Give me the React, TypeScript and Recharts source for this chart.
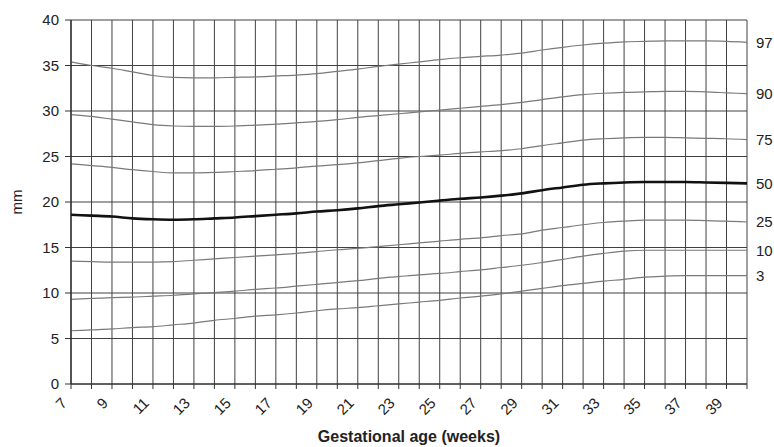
import React from 'react';
import { LineChart, Line, XAxis, YAxis, CartesianGrid } from 'recharts';

const weeks = [7, 8, 9, 10, 11, 12, 13, 14, 15, 16, 17, 18, 19, 20, 21, 22, 23, 24, 25, 26, 27, 28, 29, 30, 31, 32, 33, 34, 35, 36, 37, 38, 39, 40];
const labeledWeeks = [7, 9, 11, 13, 15, 17, 19, 21, 23, 25, 27, 29, 31, 33, 35, 37, 39];
const yTicks = [0, 5, 10, 15, 20, 25, 30, 35, 40];

const p97 = [35.4, 35.0, 34.7, 34.3, 33.9, 33.7, 33.65, 33.65, 33.7, 33.75, 33.85, 33.95, 34.1, 34.35, 34.6, 34.9, 35.15, 35.4, 35.65, 35.85, 36.0, 36.15, 36.35, 36.7, 37.0, 37.25, 37.45, 37.6, 37.65, 37.7, 37.7, 37.7, 37.65, 37.55];
const p90 = [29.6, 29.4, 29.1, 28.8, 28.5, 28.35, 28.3, 28.3, 28.35, 28.45, 28.55, 28.7, 28.85, 29.05, 29.3, 29.5, 29.7, 29.9, 30.1, 30.3, 30.5, 30.7, 30.95, 31.25, 31.55, 31.8, 31.95, 32.05, 32.1, 32.15, 32.15, 32.1, 32.0, 31.9];
const p75 = [24.2, 24.0, 23.8, 23.55, 23.35, 23.2, 23.2, 23.25, 23.35, 23.45, 23.6, 23.75, 23.95, 24.1, 24.3, 24.55, 24.8, 25.0, 25.15, 25.35, 25.5, 25.65, 25.85, 26.2, 26.5, 26.8, 26.95, 27.05, 27.1, 27.1, 27.05, 27.0, 26.95, 26.85];
const p50 = [18.6, 18.5, 18.4, 18.2, 18.1, 18.05, 18.1, 18.2, 18.3, 18.45, 18.6, 18.75, 18.95, 19.1, 19.3, 19.55, 19.75, 19.95, 20.15, 20.35, 20.5, 20.7, 20.95, 21.3, 21.6, 21.9, 22.05, 22.15, 22.2, 22.2, 22.2, 22.15, 22.1, 22.05];
const p25 = [13.5, 13.45, 13.4, 13.4, 13.4, 13.45, 13.6, 13.75, 13.9, 14.05, 14.2, 14.35, 14.55, 14.75, 14.9, 15.1, 15.3, 15.5, 15.7, 15.9, 16.05, 16.3, 16.5, 16.9, 17.2, 17.5, 17.75, 17.9, 18.0, 18.0, 18.0, 17.95, 17.9, 17.8];
const p10 = [9.3, 9.4, 9.5, 9.55, 9.65, 9.75, 9.9, 10.05, 10.2, 10.4, 10.55, 10.75, 10.95, 11.15, 11.35, 11.6, 11.8, 12.0, 12.15, 12.35, 12.55, 12.8, 13.05, 13.35, 13.7, 14.05, 14.35, 14.6, 14.7, 14.7, 14.7, 14.7, 14.7, 14.7];
const p3 = [5.85, 5.95, 6.05, 6.2, 6.3, 6.5, 6.7, 7.0, 7.2, 7.45, 7.6, 7.8, 8.05, 8.25, 8.4, 8.6, 8.8, 9.0, 9.2, 9.45, 9.65, 9.9, 10.2, 10.5, 10.8, 11.05, 11.3, 11.5, 11.75, 11.85, 11.9, 11.9, 11.9, 11.9];

const seriesKeys = ['p97', 'p90', 'p75', 'p50', 'p25', 'p10', 'p3'];
const seriesNames = ['97', '90', '75', '50', '25', '10', '3'];
const seriesValues = [p97, p90, p75, p50, p25, p10, p3];

const data = weeks.map((w, i) => {
  const row: any = { week: w };
  seriesKeys.forEach((k, j) => {
    row[k] = seriesValues[j][i];
  });
  return row;
});

const FONT = '"Liberation Sans", Arial, Helvetica, sans-serif';
const TEXT = '#222';
const GRID = '#404040';

const XTick = (props: any) => {
  const { x, y, payload } = props;
  if (!labeledWeeks.includes(payload.value)) return null;
  const tx = x - 3;
  const ty = y + 13;
  return (
    <text
      x={tx}
      y={ty}
      transform={`rotate(-45 ${tx} ${ty})`}
      textAnchor="end"
      fontFamily={FONT}
      fontSize={15}
      fill={TEXT}
    >
      {payload.value}
    </text>
  );
};

const makeEndLabel = (name: string) => (props: any) => {
  const { x, y, index } = props;
  if (index !== weeks.length - 1) return null;
  return (
    <text x={x + 9} y={y} dy="0.36em" textAnchor="start" fontFamily={FONT} fontSize={15} fill={TEXT}>
      {name}
    </text>
  );
};

export default function App() {
  return (
    <div style={{ position: 'absolute', left: 0, top: 0, width: 774, height: 447 }}>
      <LineChart width={774} height={447} data={data} margin={{ top: 20, right: 27, left: 0, bottom: 0 }}>
        <CartesianGrid stroke={GRID} strokeWidth={1} />
        <XAxis
          dataKey="week"
          type="number"
          domain={[7, 40]}
          ticks={weeks}
          interval={0}
          height={63}
          tickSize={5}
          tick={<XTick />}
          axisLine={{ stroke: '#222', strokeWidth: 1.2 }}
          tickLine={{ stroke: '#333' }}
          label={{
            content: (p: any) => {
              const vb = p.viewBox;
              return (
                <text
                  x={vb.x + vb.width / 2}
                  y={vb.y + 58}
                  textAnchor="middle"
                  fontFamily={FONT}
                  fontSize={16}
                  fontWeight="bold"
                  fill={TEXT}
                >
                  Gestational age (weeks)
                </text>
              );
            },
          }}
        />
        <YAxis
          type="number"
          domain={[0, 40]}
          ticks={yTicks}
          interval={0}
          width={71}
          tickSize={6}
          tickMargin={6}
          tick={{ fontFamily: FONT, fontSize: 15, fill: TEXT }}
          axisLine={{ stroke: '#222', strokeWidth: 1.2 }}
          tickLine={{ stroke: '#333' }}
          label={{
            content: (p: any) => {
              const vb = p.viewBox;
              const lx = 21.5;
              const ly = vb.y + vb.height / 2;
              return (
                <text
                  x={lx}
                  y={ly}
                  transform={`rotate(-90 ${lx} ${ly})`}
                  textAnchor="middle"
                  fontFamily={FONT}
                  fontSize={15}
                  fill={TEXT}
                >
                  mm
                </text>
              );
            },
          }}
        />
        {seriesKeys.map((k, j) => (
          <Line
            key={k}
            dataKey={k}
            type="monotone"
            stroke={k === 'p50' ? '#111' : '#7a7a7a'}
            strokeWidth={k === 'p50' ? 2.6 : 1.2}
            dot={false}
            activeDot={false}
            isAnimationActive={false}
            label={makeEndLabel(seriesNames[j])}
          />
        ))}
      </LineChart>
    </div>
  );
}
